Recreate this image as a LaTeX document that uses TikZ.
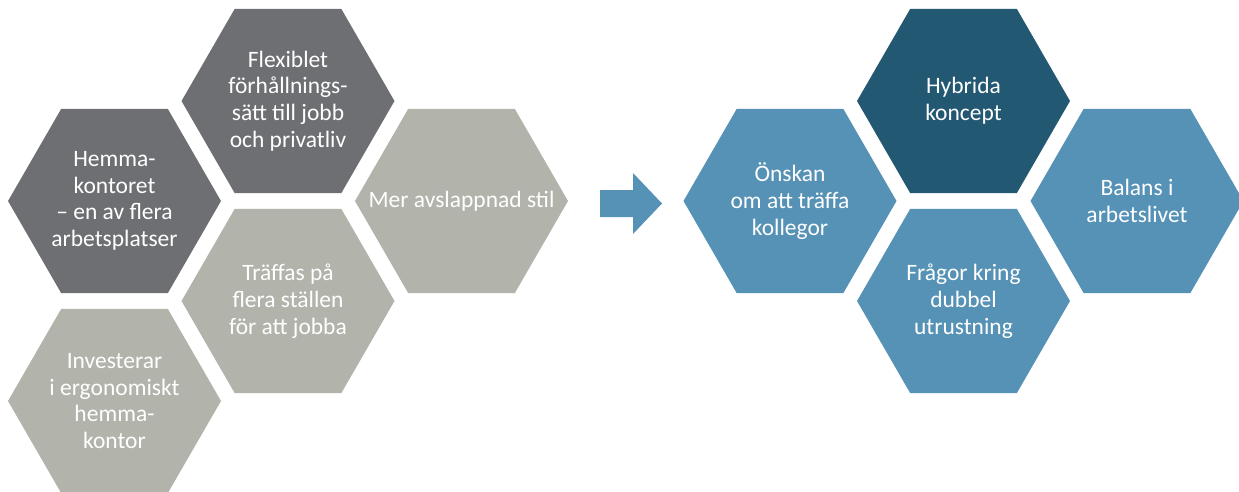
\documentclass[tikz,border=0pt]{standalone}
\usepackage{fontspec}
\setmainfont{Carlito}
\definecolor{darkgray}{HTML}{6E6F73}
\definecolor{lightgray}{HTML}{B2B3AB}
\definecolor{darkblue}{HTML}{235873}
\definecolor{midblue}{HTML}{5592B6}
\tikzset{
  txt/.style={text=white, align=center, inner sep=0pt,
    font=\fontsize{23.5}{26.7}\selectfont},
  hexdark/.style={fill=darkgray},
  hexlight/.style={fill=lightgray},
  hexnavy/.style={fill=darkblue},
  hexblue/.style={fill=midblue},
  blockarrow/.style={fill=midblue}
}
\newcommand\hexcell[5]{%
  \fill[#4] (#2,#3) ++(0:106.5) -- ++(120:106.5) -- ++(180:106.5)
     -- ++(240:106.5) -- ++(300:106.5) -- ++(0:106.5) -- cycle;
  \node[txt] (#1) at (#2,#3) {#5};}
\begin{document}
\begin{tikzpicture}[x=1pt,y=-1pt]
\useasboundingbox (0,0) rectangle (1239,492);
% left cluster
\hexcell{flex}{288}{101}{hexdark}{Flexiblet\\förhållnings-\\sätt till jobb\\och privatliv}
\hexcell{hemma}{114.5}{201}{hexdark}{Hemma-\\kontoret\\– en av flera\\arbetsplatser}
\hexcell{mer}{461.5}{201}{hexlight}{Mer avslappnad stil}
\hexcell{traffas}{288}{301}{hexlight}{Träffas på\\flera ställen\\för att jobba}
\hexcell{invest}{114.5}{401}{hexlight}{Investerar\\i ergonomiskt\\hemma-\\kontor}
% arrow
\coordinate (arr) at (631,203.5);
\fill[blockarrow] (600,190) -- (633,190) -- (633,173) -- (662,203.5)
   -- (633,234) -- (633,217) -- (600,217) -- cycle;
% right cluster
\hexcell{hybrid}{963.5}{101}{hexnavy}{Hybrida\\koncept}
\hexcell{onskan}{790}{201}{hexblue}{Önskan\\om att träffa\\kollegor}
\hexcell{balans}{1137}{201}{hexblue}{Balans i\\arbetslivet}
\hexcell{fragor}{963.5}{301}{hexblue}{Frågor kring\\dubbel\\utrustning}
\end{tikzpicture}
\end{document}
